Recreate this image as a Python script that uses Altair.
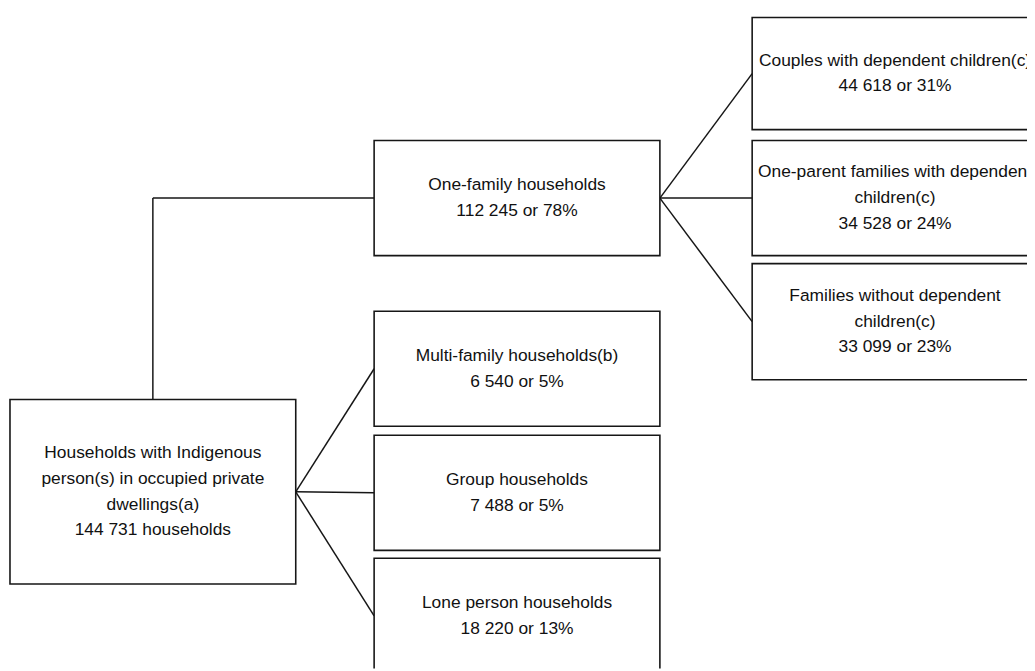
import altair as alt
import pandas as pd

# ---- data -------------------------------------------------------------
LABELS = [
    "Households with Indigenous\nperson(s) in occupied private\ndwellings(a)",
    "One-family households",
    "Multi-family households(b)",
    "Group households",
    "Lone person households",
    "Couples with dependent children(c)",
    "One-parent families with dependent\nchildren(c)",
    "Families without dependent\nchildren(c)",
]
COUNTS = [144731, 112245, 6540, 7488, 18220, 44618, 34528, 33099]
SHARES = [None, 78, 5, 5, 13, 31, 24, 23]
PARENT = [None, 0, 0, 0, 0, 1, 1, 1]

# ---- layout (page pixels) --------------------------------------------
LEVEL = [0, 1, 1, 1, 1, 2, 2, 2]
COL_LEFT = [10, 377, 758]
BOX_W = 288
BOX_TOP = [400, 139, 311, 436, 560, 15, 139, 263]
BOX_H = [186, 116, 116, 116, 116, 113, 116, 117]
ELBOW = [False, True, False, False, False, False, False, False]

W, H = 1027, 663
INK = "#161616"
FONT = "Liberation Sans"
LINE_H = 26


def fmt(n):
    return f"{n:,}".replace(",", " ")


boxes, texts, segs = [], [], []
for i, lab in enumerate(LABELS):
    x0 = COL_LEFT[LEVEL[i]]
    x1 = x0 + BOX_W
    y0 = BOX_TOP[i]
    y1 = y0 + BOX_H[i]
    boxes.append(dict(x=x0, x2=x1, y=y0, y2=y1))
    second = f"{fmt(COUNTS[i])} households" if SHARES[i] is None else f"{fmt(COUNTS[i])} or {SHARES[i]}%"
    full = lab + "\n" + second
    n = full.count("\n") + 1
    texts.append(dict(x=(x0 + x1) / 2, y=(y0 + y1) / 2 - (n - 1) / 2 * LINE_H, t=full))

for i, p in enumerate(PARENT):
    if p is None:
        continue
    pb, cb = boxes[p], boxes[i]
    cy = (cb["y"] + cb["y2"]) / 2
    if ELBOW[i]:
        px = (pb["x"] + pb["x2"]) / 2
        segs.append(dict(x=px, x2=px, y=pb["y"], y2=cy))
        segs.append(dict(x=px, x2=cb["x"], y=cy, y2=cy))
    else:
        py = (pb["y"] + pb["y2"]) / 2
        segs.append(dict(x=pb["x2"], x2=cb["x"], y=py, y2=cy))

xs = alt.Scale(domain=[8, 8 + W], nice=False, zero=False)
ys = alt.Scale(domain=[8, 8 + H], nice=False, zero=False, reverse=True)

rules = alt.Chart(pd.DataFrame(segs)).mark_rule(
    color=INK, strokeWidth=1.5, clip=True
).encode(
    x=alt.X("x:Q", scale=xs, axis=None),
    x2="x2:Q",
    y=alt.Y("y:Q", scale=ys, axis=None),
    y2="y2:Q",
)

rects = alt.Chart(pd.DataFrame(boxes)).mark_rect(
    fill="white", stroke=INK, strokeWidth=1.6, clip=True
).encode(
    x=alt.X("x:Q", scale=xs, axis=None),
    x2="x2:Q",
    y=alt.Y("y:Q", scale=ys, axis=None),
    y2="y2:Q",
)

labels = alt.Chart(pd.DataFrame(texts)).mark_text(
    font=FONT, fontSize=17.5, color="#111111", align="center",
    baseline="middle", lineBreak="\n", lineHeight=LINE_H, clip=True
).encode(
    x=alt.X("x:Q", scale=xs, axis=None),
    y=alt.Y("y:Q", scale=ys, axis=None),
    text="t:N",
)

chart = alt.layer(rules, rects, labels).properties(
    width=W, height=H, padding=0, autosize="none", background="white"
).configure_view(stroke=None)

chart.save("out.html", embed_options={"renderer": "svg", "actions": False})
